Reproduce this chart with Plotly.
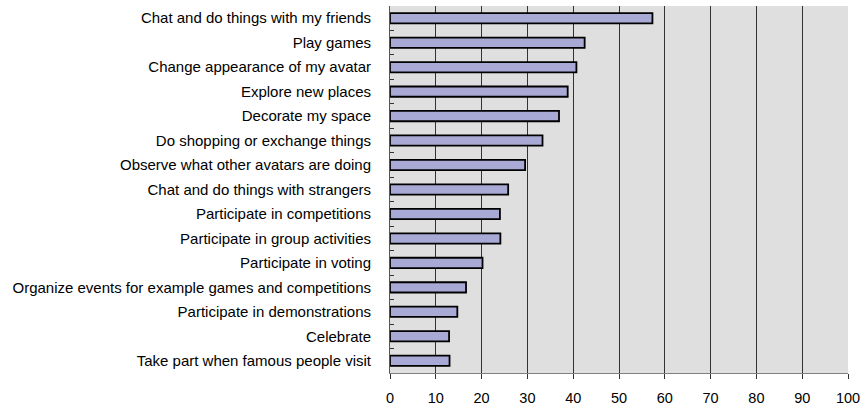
import plotly.graph_objects as go

categories = [
    "Chat and do things with my friends",
    "Play games",
    "Change appearance of my avatar",
    "Explore new places",
    "Decorate my space",
    "Do shopping or exchange things",
    "Observe what other avatars are doing",
    "Chat and do things with strangers",
    "Participate in competitions",
    "Participate in group activities",
    "Participate in voting",
    "Organize events for example games and competitions",
    "Participate in demonstrations",
    "Celebrate",
    "Take part when famous people visit",
]
values = [57.3, 42.5, 40.7, 38.8, 36.9, 33.3, 29.5, 25.8, 24.0, 24.1, 20.2, 16.6, 14.7, 12.9, 13.0]
x_ticks = [0, 10, 20, 30, 40, 50, 60, 70, 80, 90, 100]

fig = go.Figure(
    go.Bar(
        x=values,
        y=categories,
        orientation="h",
        marker=dict(color="#a9a9d5", line=dict(color="#000000", width=1.8)),
        width=0.42,
    )
)

fig.update_layout(
    width=863,
    height=409,
    margin=dict(l=390, r=15, t=6, b=36),
    paper_bgcolor="white",
    plot_bgcolor="#dfdfdf",
    font=dict(family="Liberation Sans, Arial, sans-serif", size=15, color="#000000"),
    showlegend=False,
    bargap=0.57,
)

fig.update_xaxes(
    range=[0, 100],
    tickvals=x_ticks,
    ticktext=[str(t) for t in x_ticks],
    automargin=False,
    showgrid=True,
    gridcolor="#333333",
    gridwidth=1,
    zeroline=False,
    showline=True,
    linecolor="#808080",
    linewidth=1,
    ticks="outside",
    ticklen=5,
    tickcolor="#333333",
    ticklabelstandoff=7,
    tickfont=dict(size=14.5),
)

fig.update_yaxes(
    categoryorder="array",
    categoryarray=categories[::-1],
    autorange=False,
    range=[-0.5, len(categories) - 0.5],
    automargin=False,
    showgrid=False,
    zeroline=False,
    showline=True,
    linecolor="#555555",
    linewidth=1,
    ticks="inside",
    tickson="boundaries",
    ticklen=4,
    tickcolor="#333333",
    ticklabelstandoff=15,
    tickfont=dict(size=15),
)

fig.write_html("out.html")
